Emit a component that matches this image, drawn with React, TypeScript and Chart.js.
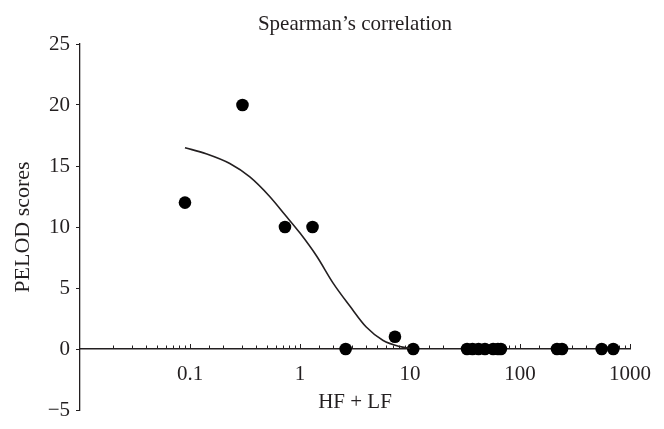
import React, { useEffect, useRef } from "react";
import { Chart, registerables } from "chart.js";

Chart.register(...registerables);

// ---- data ----
const chartTitle = "Spearman’s correlation";
const xAxisTitle = "HF + LF";
const yAxisTitle = "PELOD scores";

const hfLf = [0.09, 0.3, 0.73, 1.3, 2.6, 7.3, 10.7, 33, 37, 42, 48, 57, 63, 67, 217, 241, 553, 705];
const pelod = [12, 20, 10, 10, 0, 1, 0, 0, 0, 0, 0, 0, 0, 0, 0, 0, 0, 0];

const fitX = [0.09, 0.14, 0.23, 0.35, 0.53, 0.73, 1.0, 1.42, 2.0, 2.85, 4.0, 5.7, 8.1, 10];
const fitY = [16.5, 16.0, 15.2, 14.1, 12.5, 11.0, 9.5, 7.6, 5.4, 3.5, 1.8, 0.7, 0.2, 0.05];

const xTickLabels = ["0.1", "1", "10", "100", "1000"];
const xMin = 0.01;
const xMax = 1000;
const yMin = -5;
const yMax = 25;
const yStep = 5;

const INK = "#231f20";
const SERIF = "'Liberation Serif', 'DejaVu Serif', serif";

const isDecade = (v: number) => Math.abs(Math.log10(v) - Math.round(Math.log10(v))) < 1e-6;

const annotatePlugin = {
  id: "annotateAxes",
  beforeDatasetsDraw(chart: any) {
    const xs = chart.scales.x;
    const ys = chart.scales.y;
    const ctx = chart.ctx;
    const y0 = ys.getPixelForValue(0);
    ctx.save();
    ctx.strokeStyle = INK;
    ctx.lineWidth = 1;
    xs.ticks.forEach((t: any) => {
      const v = t.value;
      if (v <= xMin * 1.0001) return;
      const px = Math.round(xs.getPixelForValue(v)) + 0.5;
      const len = isDecade(v) ? 5 : 3.5;
      ctx.beginPath();
      ctx.moveTo(px, y0);
      ctx.lineTo(px, y0 - len);
      ctx.stroke();
    });
    ctx.restore();
  },
  afterDraw(chart: any) {
    const ctx = chart.ctx;
    const area = chart.chartArea;
    const cx = (area.left + area.right) / 2;
    ctx.save();
    ctx.fillStyle = INK;
    ctx.font = `21px ${SERIF}`;
    ctx.textAlign = "center";
    ctx.textBaseline = "alphabetic";
    ctx.fillText(chartTitle, cx, 30);
    ctx.fillText(xAxisTitle, cx, 408);
    ctx.restore();
  },
};

export default function App() {
  const ref = useRef<HTMLCanvasElement | null>(null);

  useEffect(() => {
    if (!ref.current) return;
    const chart = new Chart(ref.current, {
      type: "scatter",
      data: {
        datasets: [
          {
            label: "fit",
            data: fitX.map((x, i) => ({ x, y: fitY[i] })),
            showLine: true,
            borderColor: INK,
            borderWidth: 1.6,
            pointRadius: 0,
            cubicInterpolationMode: "monotone",
            fill: false,
          } as any,
          {
            label: "patients",
            data: hfLf.map((x, i) => ({ x, y: pelod[i] })),
            backgroundColor: "#000",
            borderColor: "#000",
            pointRadius: 6.3,
            pointBorderWidth: 0,
          },
        ],
      },
      plugins: [annotatePlugin],
      options: {
        animation: false,
        responsive: true,
        maintainAspectRatio: false,
        layout: { padding: { left: 0, right: 34, top: 44, bottom: 19 } },
        plugins: {
          legend: { display: false },
          tooltip: { enabled: false },
          title: { display: false },
        },
        scales: {
          x: {
            type: "logarithmic",
            min: xMin,
            max: xMax,
            position: { y: 0 } as any,
            grid: { display: false, drawTicks: false },
            border: { display: true, color: INK, width: 1.5 },
            ticks: {
              autoSkip: false,
              maxRotation: 0,
              color: INK,
              padding: 13,
              font: { family: SERIF, size: 21 },
              callback: (value: any) => {
                const v = Number(value);
                const hit = xTickLabels.find((s) => Math.abs(Number(s) - v) < 1e-9 * Math.max(1, v));
                return hit ?? "";
              },
            },
          },
          y: {
            type: "linear",
            min: yMin,
            max: yMax,
            afterFit: (s: any) => {
              s.width = 80;
            },
            grid: {
              display: true,
              drawOnChartArea: false,
              drawTicks: true,
              tickLength: 4,
              color: INK,
              lineWidth: 1,
            },
            border: { display: true, color: INK, width: 1.3 },
            ticks: {
              stepSize: yStep,
              color: INK,
              padding: 6,
              font: { family: SERIF, size: 21 },
              callback: (value: any) => {
                const v = Number(value);
                return v < 0 ? "\u2212" + Math.abs(v) : String(v);
              },
            },
            title: {
              display: true,
              text: yAxisTitle,
              color: INK,
              font: { family: SERIF, size: 22 },
              padding: { top: 10, bottom: 0 },
            },
          },
        },
      },
    });
    return () => chart.destroy();
  }, []);

  return (
    <div style={{ position: "fixed", left: 0, top: 0, width: 664, height: 429, background: "#fff" }}>
      <canvas ref={ref} />
    </div>
  );
}
